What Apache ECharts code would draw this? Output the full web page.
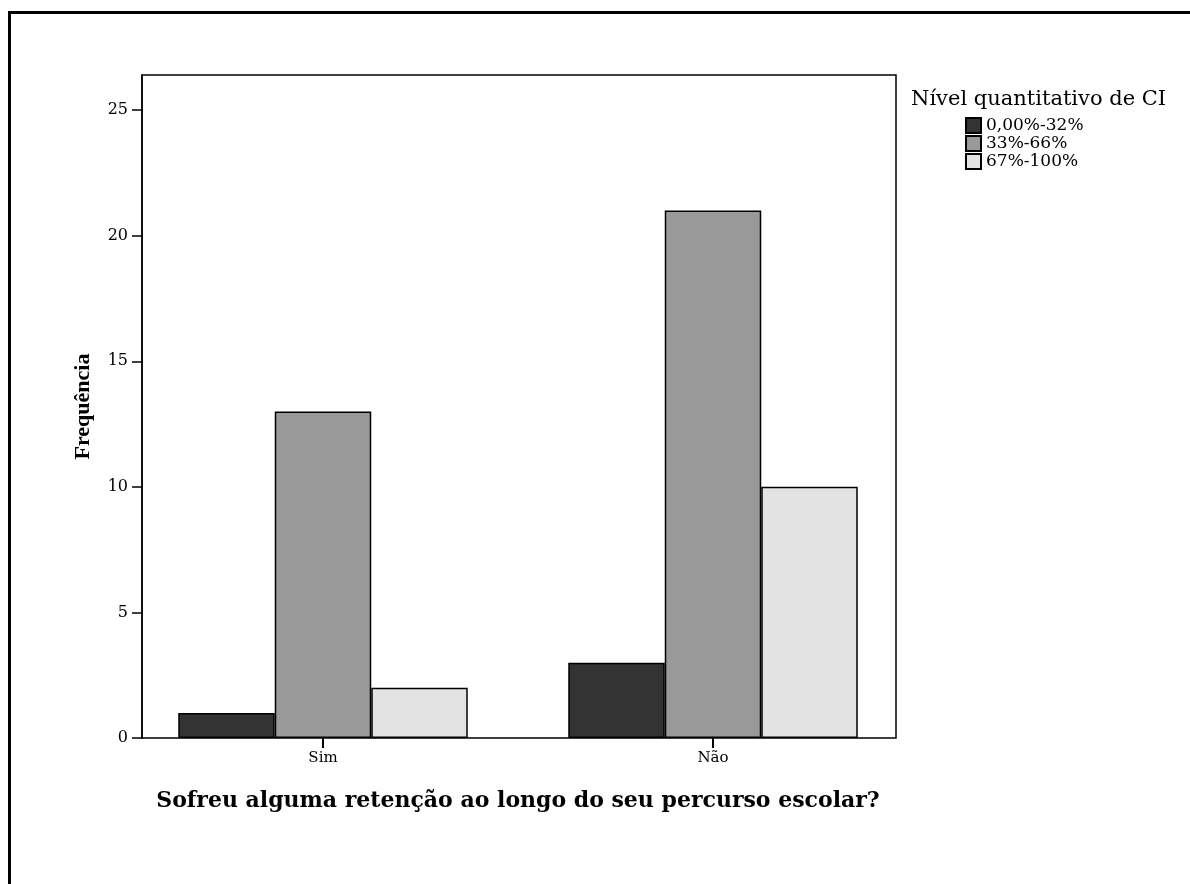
<!DOCTYPE html>
<html>
<head>
<meta charset="utf-8">
<script src="https://cdn.jsdelivr.net/npm/echarts@6/dist/echarts.min.js"></script>
<style>html,body{margin:0;padding:0;background:#fff}#c{width:1190px;height:884px}</style>
</head>
<body>
<div id="c"></div>
<script>
const categories = ['Sim', 'Não'];
const seriesNames = ['0,00%-32%', '33%-66%', '67%-100%'];
const low = [1, 3];
const mid = [13, 21];
const high = [2, 10];
const yTicks = [0, 5, 10, 15, 20, 25];
const colors = ['#333333', '#999999', '#e3e3e3'];

const serif = '"Liberation Serif", "Times New Roman", serif';
const wide = '"DejaVu Serif", serif';
const chart = echarts.init(document.getElementById('c'), null, {renderer: 'canvas'});
const data = [low, mid, high];
chart.setOption({
  animation: false,
  backgroundColor: '#fff',
  title: {
    text: 'Nível quantitativo de CI',
    left: 906, top: 84,
    textStyle: {fontFamily: wide, fontWeight: 'normal', fontSize: 21, color: '#000'}
  },
  legend: {
    orient: 'vertical', left: 965, top: 117, padding: 0,
    itemWidth: 15, itemHeight: 15, itemGap: 1,
    icon: 'rect',
    textStyle: {fontFamily: wide, fontSize: 17, lineHeight: 15, color: '#000'},
    data: seriesNames
  },
  grid: {left: 128, top: 75, width: 780, height: 663, containLabel: false},
  xAxis: {
    type: 'category', data: categories,
    axisLine: {show: false},
    axisTick: {show: true, alignWithLabel: true, length: 10, lineStyle: {color: '#000', width: 2}},
    axisLabel: {fontFamily: wide, fontSize: 15, color: '#000', margin: 13},
    name: 'Sofreu alguma retenção ao longo do seu percurso escolar?',
    nameLocation: 'middle', nameGap: 52,
    nameTextStyle: {fontFamily: wide, fontWeight: 'bold', fontSize: 22, color: '#000'}
  },
  yAxis: {
    type: 'value', min: 0, max: 26.4, interval: 5, offset: -14,
    splitLine: {show: false},
    axisLine: {show: true, lineStyle: {color: '#000', width: 1.5}},
    axisTick: {show: true, length: 10, customValues: yTicks, lineStyle: {color: '#000', width: 1.5}},
    axisLabel: {fontFamily: wide, fontSize: 16, color: '#000', margin: 14, customValues: yTicks},
    name: 'Frequência', nameLocation: 'middle', nameGap: 48, nameRotate: 90,
    nameTextStyle: {fontFamily: serif, fontWeight: 'bold', fontSize: 22, color: '#000'}
  },
  graphic: [
    {type: 'rect', silent: true, z: 10,
     shape: {x: 142, y: 75, width: 754, height: 663},
     style: {fill: 'none', stroke: '#000', lineWidth: 1.5}},
    {type: 'polyline', silent: true, z: 10,
     shape: {points: [[9.5, 884], [9.5, 12.5], [1190, 12.5]]},
     style: {fill: 'none', stroke: '#000', lineWidth: 3}}
  ],
  series: seriesNames.map((n, i) => ({
    name: n, type: 'bar', data: data[i],
    barWidth: 96.5, barGap: '0%',
    itemStyle: {color: colors[i], borderColor: '#000', borderWidth: 1.5}
  }))
});
</script>
</body>
</html>
